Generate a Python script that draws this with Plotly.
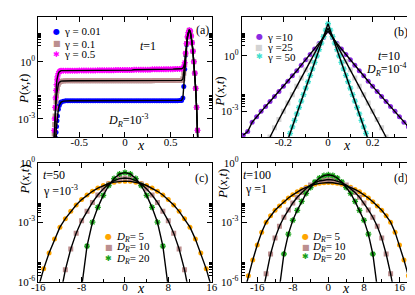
import plotly.graph_objects as go

W, H = 415, 295
SERIF = "Liberation Serif, Times New Roman, serif"

# ---------------- panel (a): t=1, D_R=1e-3 ; values are log10 P ----------------
a_x = [-0.785, -0.78, -0.775, -0.77, -0.765, -0.76, -0.755, -0.75, -0.745, -0.74, -0.73, -0.72, -0.71, -0.70,
       -0.675, -0.65, -0.625, -0.60, -0.575, -0.55, -0.525, -0.50, -0.475, -0.45,
       -0.425, -0.40, -0.375, -0.35, -0.325, -0.30, -0.275, -0.25, -0.225, -0.20,
       -0.175, -0.15, -0.125, -0.10, -0.075, -0.05, -0.025, 0.0, 0.025, 0.05,
       0.075, 0.10, 0.125, 0.15, 0.175, 0.20, 0.225, 0.25, 0.275, 0.30,
       0.325, 0.35, 0.375, 0.40, 0.425, 0.45, 0.475, 0.50, 0.525, 0.55,
       0.575, 0.60,
       0.62, 0.635, 0.645, 0.655, 0.665, 0.675, 0.685, 0.695, 0.705, 0.715, 0.725, 0.735, 0.745, 0.755,
       0.765, 0.775, 0.785, 0.795, 0.805]
a_lg_g001 = [-6.0, -5.5, -5.0, -4.6, -4.3, -4.0, -3.7, -3.4, -3.1, -2.85, -2.5, -2.3, -2.18, -2.12,
             -2.07, -2.05, -2.05, -2.05, -2.05, -2.05, -2.05, -2.05, -2.05, -2.05,
             -2.05, -2.05, -2.05, -2.05, -2.05, -2.05, -2.05, -2.05, -2.05, -2.05,
             -2.05, -2.05, -2.05, -2.05, -2.05, -2.05, -2.05, -2.05, -2.05, -2.05,
             -2.05, -2.05, -2.05, -2.05, -2.05, -2.05, -2.05, -2.05, -2.05, -2.05,
             -2.05, -2.05, -2.05, -2.05, -2.05, -2.05, -2.05, -2.05, -2.05, -2.05,
             -2.05, -2.04,
             -2.03, -1.9, -1.3, -0.4, 0.35, 0.9, 1.3, 1.52, 1.65, 1.6, 1.35, 1.0, 0.55, 0.0,
             -0.6, -1.4, -2.4, -3.6, -5.0]
a_lg_g01 = [-5.0, -4.4, -3.8, -3.3, -2.85, -2.45, -2.1, -1.8, -1.55, -1.38, -1.18, -1.08, -1.04, -1.02,
            -1.01, -1.0, -1.0, -1.0, -1.0, -1.0, -1.0, -1.0, -1.0, -1.0,
            -1.0, -1.0, -1.0, -1.0, -1.0, -1.0, -1.0, -1.0, -1.0, -1.0,
            -1.0, -1.0, -1.0, -1.0, -1.0, -1.0, -1.0, -1.0, -1.0, -1.0,
            -1.0, -1.0, -1.0, -1.0, -1.0, -1.0, -1.0, -1.0, -1.0, -1.0,
            -0.99, -0.99, -0.99, -0.99, -0.99, -0.99, -0.99, -0.99, -0.99, -0.99,
            -0.99, -0.98,
            -0.98, -0.9, -0.6, -0.15, 0.4, 0.95, 1.3, 1.52, 1.65, 1.6, 1.35, 1.0, 0.55, 0.0,
            -0.6, -1.4, -2.4, -3.6, -5.0]
a_lg_g05 = [-5.0, -4.3, -3.6, -3.0, -2.4, -1.9, -1.5, -1.2, -0.95, -0.8, -0.62, -0.53, -0.49, -0.47,
            -0.47, -0.47, -0.47, -0.47, -0.47, -0.47, -0.47, -0.46, -0.46, -0.46,
            -0.46, -0.46, -0.46, -0.46, -0.46, -0.45, -0.45, -0.45, -0.45, -0.45,
            -0.45, -0.45, -0.45, -0.44, -0.44, -0.44, -0.44, -0.44, -0.44, -0.44,
            -0.44, -0.42, -0.42, -0.42, -0.42, -0.42, -0.42, -0.42, -0.42, -0.40,
            -0.40, -0.40, -0.40, -0.40, -0.40, -0.39, -0.39, -0.39, -0.39, -0.38,
            -0.38, -0.38,
            -0.37, -0.33, -0.25, -0.05, 0.45, 0.95, 1.3, 1.52, 1.65, 1.6, 1.35, 1.0, 0.55, 0.0,
            -0.6, -1.4, -2.4, -3.6, -5.0]

# ---------------- panel (b): t=10, D_R=1e-4 ----------------
b_x_g10 = [-0.38, -0.36, -0.34, -0.32, -0.30, -0.28, -0.26, -0.24, -0.22, -0.20, -0.18, -0.16, -0.14,
           -0.12, -0.10, -0.08, -0.06, -0.04, -0.02, 0.0, 0.02, 0.04, 0.06, 0.08, 0.10, 0.12, 0.14,
           0.16, 0.18, 0.20, 0.22, 0.24, 0.26, 0.28, 0.30, 0.32, 0.34, 0.36, 0.38]
b_lg_g10 = [-4.3, -4.1, -3.6, -3.3, -3.0, -2.74, -2.47, -2.2, -1.93, -1.65, -1.37, -1.08, -0.8,
            -0.5, -0.2, 0.08, 0.38, 0.68, 1.0, 1.35, 1.0, 0.68, 0.38, 0.08, -0.2, -0.5, -0.8,
            -1.08, -1.37, -1.65, -1.93, -2.2, -2.47, -2.74, -3.0, -3.3, -3.6, -3.85, -3.95]
b_x_g25 = [-0.26, -0.24, -0.22, -0.20, -0.18, -0.16, -0.14, -0.12, -0.10, -0.08, -0.06, -0.04, -0.02,
           0.0, 0.02, 0.04, 0.06, 0.08, 0.10, 0.12, 0.14, 0.16, 0.18, 0.20, 0.22, 0.24, 0.26]
b_lg_g25 = [-4.4, -3.9, -3.45, -3.0, -2.55, -2.1, -1.65, -1.2, -0.75, -0.3, 0.15, 0.6, 1.05,
            1.5, 1.05, 0.6, 0.15, -0.3, -0.75, -1.2, -1.65, -2.1, -2.55, -3.0, -3.45, -3.9, -4.4]
b_x_g50 = [-0.18, -0.17, -0.16, -0.15, -0.14, -0.13, -0.12, -0.11, -0.10, -0.09, -0.08, -0.07, -0.06,
           -0.05, -0.04, -0.03, -0.02, -0.01, 0.0, 0.01, 0.02, 0.03, 0.04, 0.05, 0.06, 0.07, 0.08,
           0.09, 0.10, 0.11, 0.12, 0.13, 0.14, 0.15, 0.16, 0.17, 0.18]
b_lg_g50 = [-4.55, -4.2, -3.85, -3.5, -3.15, -2.8, -2.45, -2.1, -1.75, -1.4, -1.05, -0.7, -0.35,
            0.0, 0.35, 0.7, 1.05, 1.4, 1.75, 1.4, 1.05, 0.7, 0.35, 0.0, -0.35, -0.7, -1.05,
            -1.4, -1.75, -2.1, -2.45, -2.8, -3.15, -3.5, -3.85, -4.2, -4.55]

# ---------------- panel (c): t=50, gamma=1e-3 ----------------
c_x_dr5 = [-16, -15, -14, -13, -12, -11, -10, -9, -8, -7, -6, -5, -4, -3, -2, -1, 0,
           1, 2, 3, 4, 5, 6, 7, 8, 9, 10, 11, 12, 13, 14, 15, 16]
c_lg_dr5 = [-6.3, -5.35, -4.55, -3.85, -3.25, -2.82, -2.45, -2.13, -1.86, -1.63, -1.44, -1.28, -1.15,
            -1.05, -0.98, -0.94, -0.93, -0.94, -0.98, -1.05, -1.15, -1.28, -1.44, -1.63, -1.86,
            -2.13, -2.45, -2.82, -3.25, -3.85, -4.55, -5.35, -6.3]
c_x_dr10 = [-12, -11, -10, -9, -8, -7, -6, -5, -4, -3, -2, -1, 0, 1, 2, 3, 4, 5, 6, 7, 8, 9, 10, 11, 12]
c_lg_dr10 = [-6.8, -5.4, -4.35, -3.55, -2.93, -2.45, -2.0, -1.63, -1.32, -1.07, -0.9, -0.8, -0.77,
             -0.8, -0.9, -1.07, -1.32, -1.63, -2.0, -2.45, -2.93, -3.55, -4.35, -5.4, -6.8]
c_x_dr20 = [-8, -7, -6, -5, -4, -3, -2, -1, 0, 1, 2, 3, 4, 5, 6, 7, 8]
c_lg_dr20 = [-6.3, -4.2, -3.0, -2.25, -1.65, -1.15, -0.8, -0.57, -0.5, -0.57, -0.8, -1.15, -1.65,
             -2.25, -3.0, -4.2, -6.3]

# ---------------- panel (d): t=100, gamma=1 ----------------
d_x_dr5 = [-19, -18, -17, -16, -15, -14, -13, -12, -11, -10, -9, -8, -7, -6, -5, -4, -3, -2, -1, 0,
           1, 2, 3, 4, 5, 6, 7, 8, 9, 10, 11, 12, 13, 14, 15, 16, 17, 18, 19]
d_lg_dr5 = [-6.6, -5.7, -4.9, -4.15, -3.5, -3.0, -2.68, -2.40, -2.18, -1.97, -1.78, -1.62, -1.47,
            -1.35, -1.24, -1.16, -1.09, -1.04, -1.01, -1.0, -1.01, -1.04, -1.09, -1.16, -1.24,
            -1.35, -1.47, -1.62, -1.78, -1.97, -2.18, -2.40, -2.68, -3.0, -3.5, -4.15, -4.9,
            -5.7, -6.6]
d_x_dr10 = [-15, -14, -13, -12, -11, -10, -9, -8, -7, -6, -5, -4, -3, -2, -1, 0,
            1, 2, 3, 4, 5, 6, 7, 8, 9, 10, 11, 12, 13, 14, 15]
d_lg_dr10 = [-6.8, -5.6, -4.6, -3.8, -3.2, -2.75, -2.38, -2.03, -1.74, -1.5, -1.3, -1.13, -1.0,
             -0.92, -0.87, -0.85, -0.87, -0.92, -1.0, -1.13, -1.3, -1.5, -1.74, -2.03, -2.38,
             -2.75, -3.2, -3.8, -4.6, -5.6, -6.8]
d_x_dr20 = [-11, -10, -9, -8, -7, -6, -5, -4, -3, -2, -1, 0, 1, 2, 3, 4, 5, 6, 7, 8, 9, 10, 11]
d_lg_dr20 = [-6.3, -4.6, -3.6, -2.9, -2.4, -1.95, -1.55, -1.25, -0.97, -0.77, -0.65, -0.61, -0.65,
             -0.77, -0.97, -1.25, -1.55, -1.95, -2.4, -2.9, -3.6, -4.6, -6.3]

# ---------------- axis ticks ----------------
a_xticks = [-0.5, 0, 0.5]
a_xticktext = ["-0.5", "0", "0.5"]
a_xminor = [-0.75, -0.25, 0.25, 0.75]
b_xticks = [-0.2, 0, 0.2]
b_xticktext = ["-0.2", "0", "0.2"]
b_xminor = [-0.3, -0.1, 0.1, 0.3]
cd_xticks = [-16, -8, 0, 8, 16]
cd_xticktext = ["-16", "-8", "0", "8", "16"]
cd_xminor = [-12, -4, 4, 12]
ab_yticks = [1e-3, 1]
ab_yticktext = ["10<sup>-3</sup>", "10<sup>0</sup>"]
cd_yticks = [1e-6, 1e-3, 1]
cd_yticktext = ["10<sup>-6</sup>", "10<sup>-3</sup>", "10<sup>0</sup>"]
a_yminor = [7.1, 10.6, 14.2, 17.7, 21.3, 24.8, 28.4, 31.9,
            0.0036, 0.0053, 0.0071, 0.0089, 0.0107, 0.0124, 0.0142, 0.016]
b_yminor = [3.9, 5.9, 7.8, 9.8, 11.7, 13.7, 15.6, 17.6,
            0.0017, 0.0026, 0.0034, 0.0043, 0.0051, 0.006, 0.0068, 0.0077]
cd_yminor = [0.002, 0.003, 0.004, 0.005, 0.006, 0.007, 0.008, 0.009,
             2e-6, 3e-6, 4e-6, 5e-6, 6e-6, 7e-6, 8e-6, 9e-6]


def pw(v):
    return [10 ** e for e in v]


fig = go.Figure()


def add_pts(xs, lgs, ax, color, symbol, size, open_=False):
    mk = dict(symbol=symbol, size=size, color=color)
    mk["line"] = dict(color=color, width=1.3) if open_ else dict(width=0)
    fig.add_trace(go.Scatter(x=xs, y=pw(lgs), mode="markers", marker=mk,
                             xaxis="x" + ax, yaxis="y" + ax, showlegend=False, hoverinfo="skip"))


def add_line(xs, lgs, ax):
    fig.add_trace(go.Scatter(x=xs, y=pw(lgs), mode="lines", line=dict(color="black", width=1.4),
                             xaxis="x" + ax, yaxis="y" + ax, showlegend=False, hoverinfo="skip"))


BLUE, RBROWN, MAG = "#0000ff", "#bc8f8f", "#ff00ff"
PURP, GRAY, TURQ = "#8a2be2", "#d3d3d3", "#40e0d0"
ORNG, GREEN = "#ffa500", "#16a016"

# (a)
add_pts(a_x, a_lg_g001, "", BLUE, "circle", 5)
add_pts(a_x, a_lg_g01, "", RBROWN, "square", 5)
add_pts(a_x, a_lg_g05, "", MAG, "asterisk-open", 5, True)
for ys in (a_lg_g001, a_lg_g01, a_lg_g05):
    add_line(a_x, ys, "")
# (b)
add_pts(b_x_g10, b_lg_g10, "2", PURP, "circle", 5)
add_pts(b_x_g25, b_lg_g25, "2", GRAY, "square", 5)
add_pts(b_x_g50, b_lg_g50, "2", TURQ, "asterisk-open", 5, True)
add_line(b_x_g10, b_lg_g10, "2")
add_line(b_x_g25, b_lg_g25, "2")
add_line(b_x_g50, b_lg_g50, "2")
# (c)
add_pts(c_x_dr5, c_lg_dr5, "3", ORNG, "circle", 5)
add_pts(c_x_dr10, c_lg_dr10, "3", RBROWN, "square", 5)
add_pts(c_x_dr20, c_lg_dr20, "3", GREEN, "asterisk-open", 5, True)
add_line(c_x_dr5, c_lg_dr5, "3")
add_line(c_x_dr10, c_lg_dr10, "3")
add_line(c_x_dr20, c_lg_dr20, "3")
# (d)
add_pts(d_x_dr5, d_lg_dr5, "4", ORNG, "circle", 5)
add_pts(d_x_dr10, d_lg_dr10, "4", RBROWN, "square", 5)
add_pts(d_x_dr20, d_lg_dr20, "4", GREEN, "asterisk-open", 5, True)
add_line(d_x_dr5, d_lg_dr5, "4")
add_line(d_x_dr10, d_lg_dr10, "4")
add_line(d_x_dr20, d_lg_dr20, "4")


def dom_x(l, r):
    return [l / W, r / W]


def dom_y(t, b):
    return [1 - b / H, 1 - t / H]


def common(tv, tt, mv):
    return dict(tickmode="array", tickvals=tv, ticktext=tt,
                ticks="inside", ticklen=5, tickwidth=1, tickcolor="black",
                showline=True, linewidth=1, linecolor="black", mirror="ticks",
                showgrid=False, zeroline=False,
                tickfont=dict(family=SERIF, size=11, color="black"),
                minor=dict(tickmode="array", tickvals=mv, ticks="inside", ticklen=3,
                           tickwidth=1, tickcolor="black", showgrid=False))


L1, R1, L2, R2 = 24, 203, 234, 413
T1, B1, T2, B2 = 1, 127, 154, 279
XSO = -5

fig.update_layout(
    width=W, height=H, margin=dict(l=0, r=0, t=0, b=0),
    paper_bgcolor="white", plot_bgcolor="white", showlegend=False,
    xaxis=dict(domain=dom_x(L1, R1), range=[-0.95, 0.95], anchor="y", ticklabelstandoff=XSO,
               **common(a_xticks, a_xticktext, a_xminor)),
    yaxis=dict(domain=dom_y(T1, B1), type="log", range=[-3.95, 2.35], anchor="x",
               **common(ab_yticks, ab_yticktext, a_yminor)),
    xaxis2=dict(domain=dom_x(L2, R2), range=[-0.387, 0.39], anchor="y2", ticklabelstandoff=XSO,
                **common(b_xticks, b_xticktext, b_xminor)),
    yaxis2=dict(domain=dom_y(T1, B1), type="log", range=[-4.40, 2.12], anchor="x2",
                **common(ab_yticks, ab_yticktext, b_yminor)),
    xaxis3=dict(domain=dom_x(L1, R1), range=[-16, 16], anchor="y3", ticklabelstandoff=XSO,
                **common(cd_xticks, cd_xticktext, cd_xminor)),
    yaxis3=dict(domain=dom_y(T2, B2), type="log", range=[-6, 0], anchor="x3",
                **common(cd_yticks, cd_yticktext, cd_yminor)),
    xaxis4=dict(domain=dom_x(L2, R2), range=[-19.5, 19.5], anchor="y4", ticklabelstandoff=XSO,
                **common(cd_xticks, cd_xticktext, cd_xminor)),
    yaxis4=dict(domain=dom_y(T2, B2), type="log", range=[-6, 0], anchor="x4",
                **common(cd_yticks, cd_yticktext, cd_yminor)),
)


def ann(x, y, text, size=11, xanchor="center", angle=0):
    fig.add_annotation(x=x / W, y=1 - y / H, xref="paper", yref="paper", text=text, showarrow=False,
                       font=dict(family=SERIF, size=size, color="black"), xanchor=xanchor,
                       yanchor="middle", textangle=angle, borderpad=0)


def glyph(x, y, ch, color, size):
    fig.add_annotation(x=x / W, y=1 - y / H, xref="paper", yref="paper", text=ch, showarrow=False,
                       font=dict(family="DejaVu Sans", size=size, color=color), xanchor="center",
                       yanchor="middle", borderpad=0)


PXT = "<i>P</i>(<i>x</i>,<i>t</i>)"
DR = "<i>D</i><sub><i>R</i></sub>"
# axis titles
for (x, y) in [(130, 136), (343, 136), (130, 286), (342, 286)]:
    ann(x, y, "<i>x</i>", 14)
for (x, y) in [(9, 77), (211, 79), (10, 172), (214, 176)]:
    ann(x, y, PXT, 13, angle=-90)

# panel labels
ann(194, 15, "(a)", 12)
ann(398, 17, "(b)", 12)
ann(193, 170, "(c)", 12)
ann(398, 170, "(d)", 12)

# panel texts
ann(137, 32, "<i>t</i>=1", 12)
ann(117, 110, DR + "=10<sup>-3</sup>", 12)
ann(386, 42, "<i>t</i>=10", 12)
ann(384, 56, DR + "=10<sup>-4</sup>", 12)
ann(28, 167, "<i>t</i>=50", 12, xanchor="left")
ann(28, 183, "γ =10<sup>-3</sup>", 12, xanchor="left")
ann(234, 167, "<i>t</i>=100", 12, xanchor="left")
ann(236, 182, "γ =1", 12, xanchor="left")

# legends
CIRC, SQ, AST = "●", "■", "✱"
leg_a = [(16, CIRC, BLUE, "γ = 0.01"), (29, SQ, RBROWN, "γ = 0.1"), (40, AST, MAG, "γ = 0.5")]
for y, ch, col, txt in leg_a:
    glyph(43, y, ch, col, 8)
    ann(50, y, txt, 11, xanchor="left")
leg_b = [(22, CIRC, PURP, "γ =10"), (33, SQ, GRAY, "γ =25"), (43, AST, TURQ, "γ = 50")]
for y, ch, col, txt in leg_b:
    glyph(252, y, ch, col, 8)
    ann(259, y, txt, 11, xanchor="left")
leg_c = [(232, CIRC, ORNG, DR + "= 5"), (243, SQ, RBROWN, DR + "= 10"), (255, AST, GREEN, DR + "= 20")]
for y, ch, col, txt in leg_c:
    glyph(97, y, ch, col, 8)
    ann(103, y, txt, 11, xanchor="left")
leg_d = [(232, CIRC, ORNG, DR + "= 5"), (243, SQ, RBROWN, DR + "= 10"), (253, AST, GREEN, DR + "= 20")]
for y, ch, col, txt in leg_d:
    glyph(300, y, ch, col, 8)
    ann(306, y, txt, 11, xanchor="left")

fig.write_html("out.html")
